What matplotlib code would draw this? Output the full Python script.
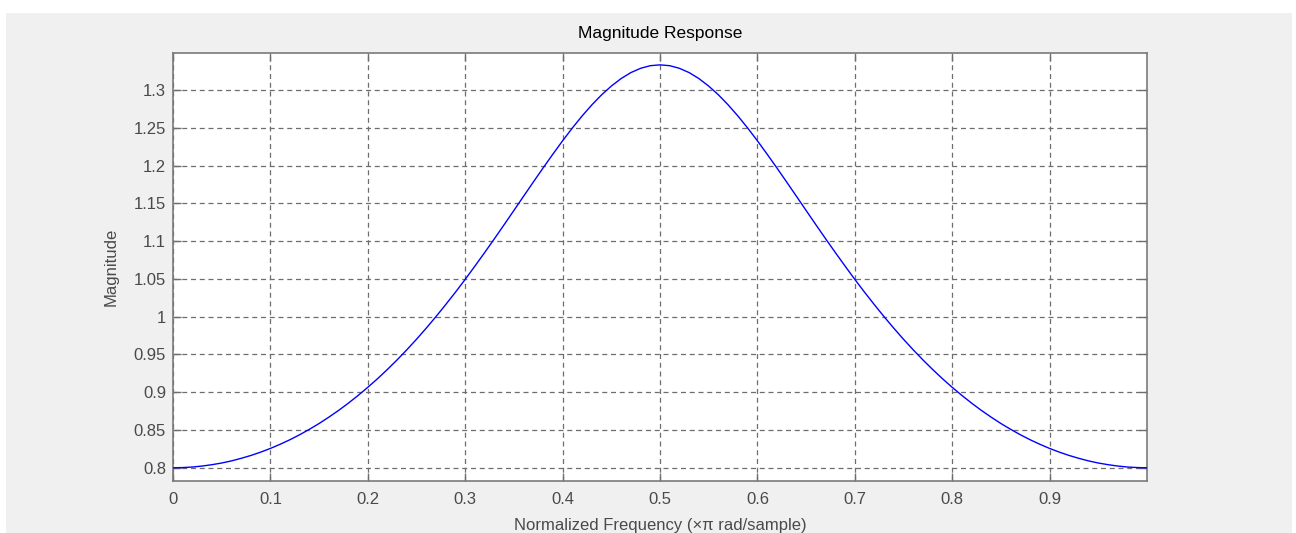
import matplotlib
matplotlib.use("Agg")
import matplotlib.pyplot as plt
from matplotlib.patches import Rectangle

# normalized frequency (x pi rad/sample) and magnitude
freq = [0.00, 0.01, 0.02, 0.03, 0.04, 0.05, 0.06, 0.07, 0.08, 0.09,
        0.10, 0.11, 0.12, 0.13, 0.14, 0.15, 0.16, 0.17, 0.18, 0.19,
        0.20, 0.21, 0.22, 0.23, 0.24, 0.25, 0.26, 0.27, 0.28, 0.29,
        0.30, 0.31, 0.32, 0.33, 0.34, 0.35, 0.36, 0.37, 0.38, 0.39,
        0.40, 0.41, 0.42, 0.43, 0.44, 0.45, 0.46, 0.47, 0.48, 0.49,
        0.50, 0.51, 0.52, 0.53, 0.54, 0.55, 0.56, 0.57, 0.58, 0.59,
        0.60, 0.61, 0.62, 0.63, 0.64, 0.65, 0.66, 0.67, 0.68, 0.69,
        0.70, 0.71, 0.72, 0.73, 0.74, 0.75, 0.76, 0.77, 0.78, 0.79,
        0.80, 0.81, 0.82, 0.83, 0.84, 0.85, 0.86, 0.87, 0.88, 0.89,
        0.90, 0.91, 0.92, 0.93, 0.94, 0.95, 0.96, 0.97, 0.98, 0.99, 1.00]
magnitude = [0.8000, 0.8003, 0.8010, 0.8023, 0.8041, 0.8063, 0.8091, 0.8125, 0.8163, 0.8207,
             0.8256, 0.8311, 0.8371, 0.8437, 0.8509, 0.8586, 0.8670, 0.8759, 0.8855, 0.8957,
             0.9065, 0.9179, 0.9300, 0.9427, 0.9561, 0.9701, 0.9848, 1.0001, 1.0160, 1.0324,
             1.0494, 1.0670, 1.0849, 1.1032, 1.1218, 1.1406, 1.1595, 1.1783, 1.1969, 1.2151,
             1.2328, 1.2497, 1.2656, 1.2803, 1.2936, 1.3052, 1.3151, 1.3230, 1.3287, 1.3322,
             1.3333, 1.3322, 1.3287, 1.3230, 1.3151, 1.3052, 1.2936, 1.2803, 1.2656, 1.2497,
             1.2328, 1.2151, 1.1969, 1.1783, 1.1595, 1.1406, 1.1218, 1.1032, 1.0849, 1.0670,
             1.0494, 1.0324, 1.0160, 1.0001, 0.9848, 0.9701, 0.9561, 0.9427, 0.9300, 0.9179,
             0.9065, 0.8957, 0.8855, 0.8759, 0.8670, 0.8586, 0.8509, 0.8437, 0.8371, 0.8311,
             0.8256, 0.8207, 0.8163, 0.8125, 0.8091, 0.8063, 0.8041, 0.8023, 0.8010, 0.8003, 0.8000]

xticks = [0, 0.1, 0.2, 0.3, 0.4, 0.5, 0.6, 0.7, 0.8, 0.9]
xtick_labels = ["0", "0.1", "0.2", "0.3", "0.4", "0.5", "0.6", "0.7", "0.8", "0.9"]
yticks = [0.8, 0.85, 0.9, 0.95, 1.0, 1.05, 1.1, 1.15, 1.2, 1.25, 1.3]
ytick_labels = ["0.8", "0.85", "0.9", "0.95", "1", "1.05", "1.1", "1.15", "1.2", "1.25", "1.3"]

plt.rcParams['font.family'] = ['Liberation Sans', 'DejaVu Sans']

W, H = 1296, 533
fig = plt.figure(figsize=(W / 100, H / 100), dpi=100, facecolor='white')

# grey window background
fig.patches.append(Rectangle((6 / W, 0), 1286 / W, 520 / H, transform=fig.transFigure,
                             facecolor='#f0f0f0', edgecolor='none', zorder=-10))

ax = fig.add_axes([173 / W, 1 - 481 / H, 974 / W, 428 / H])
ax.set_facecolor('white')
ax.plot(freq, magnitude, color='#0000ff', linewidth=1.0, zorder=3)

ax.set_xlim(0, 1.0)
ax.set_ylim(0.7825, 1.349)
ax.set_xticks(xticks)
ax.set_xticklabels(xtick_labels)
ax.set_yticks(yticks)
ax.set_yticklabels(ytick_labels)

ax.grid(True, color='#6e6e6e', linestyle=(0, (4, 3)), linewidth=0.9)
ax.tick_params(direction='in', length=6, width=1, color='#6e6e6e',
               top=True, right=True, labelsize=12, labelcolor='#4a4a4a')
ax.tick_params(axis='x', pad=8)
ax.tick_params(axis='y', pad=5)
for s in ax.spines.values():
    s.set_color('#7a7a7a')
    s.set_linewidth(1.2)

ax.set_title("Magnitude Response", fontsize=12.5, color='black', pad=11)
ax.set_xlabel("Normalized Frequency (\u00d7\u03c0 rad/sample)", fontsize=12, color='#4a4a4a', labelpad=8)
ax.set_ylabel("Magnitude", fontsize=12, color='#4a4a4a', labelpad=11)

fig.savefig("out.png", dpi=100, facecolor='white')
